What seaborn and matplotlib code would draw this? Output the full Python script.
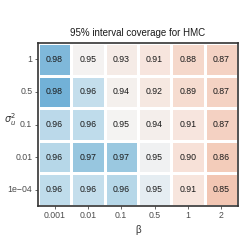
import numpy as np
import pandas as pd
import matplotlib
matplotlib.use("Agg")
import matplotlib.pyplot as plt
import seaborn as sns
from matplotlib.colors import LinearSegmentedColormap

# coverage values (rows = sigma_u^2, cols = beta)
beta_labels = ["0.001", "0.01", "0.1", "0.5", "1", "2"]
sigma_labels = ["1", "0.5", "0.1", "0.01", "1e\u221204"]

row_1 = [0.980, 0.949, 0.934, 0.914, 0.884, 0.874]
row_05 = [0.984, 0.961, 0.944, 0.922, 0.892, 0.874]
row_01 = [0.963, 0.962, 0.950, 0.942, 0.914, 0.873]
row_001 = [0.964, 0.972, 0.971, 0.951, 0.904, 0.864]
row_1e4 = [0.962, 0.961, 0.964, 0.954, 0.912, 0.854]

coverage = pd.DataFrame([row_1, row_05, row_01, row_001, row_1e4],
                        index=sigma_labels, columns=beta_labels)

# diverging palette: muted red below 0.95, blue above
vmin, vmax = 0.85, 0.985
stops = [(0.85, "#f2c4b0"), (0.87, "#f4cfbf"), (0.88, "#f5d6c9"),
         (0.91, "#f7e4dc"), (0.94, "#f4ede9"), (0.95, "#f4f3f2"),
         (0.955, "#e2ecf2"), (0.96, "#c9e1ee"), (0.97, "#9ecae1"),
         (0.985, "#70b0d7")]
cmap = LinearSegmentedColormap.from_list(
    "cov", [((v - vmin) / (vmax - vmin), c) for v, c in stops])

sns.set_theme(style="white")
plt.rcParams['font.family'] = ['Liberation Sans', 'DejaVu Sans']

fig = plt.figure(figsize=(2.43, 2.42), dpi=100)
ax = fig.add_axes([0.156, 0.149, 0.823, 0.673])

sns.heatmap(coverage, ax=ax, cmap=cmap, vmin=vmin, vmax=vmax, cbar=False,
            annot=True, fmt=".2f", annot_kws={"size": 6.3, "color": "#1a1a1a"},
            linewidths=0.8, linecolor="white")

for side in ax.spines.values():
    side.set_visible(True)
    side.set_color("#333333")
    side.set_linewidth(1.2)

ax.set_title("95% interval coverage for HMC", fontsize=7, color="#1a1a1a", pad=5)
ax.set_xlabel("\u03b2", fontsize=7, color="#333333", labelpad=3)
ax.set_ylabel(r"$\sigma_u^2$", fontsize=7, color="#333333", rotation=0,
              ha="center", va="center")
ax.yaxis.set_label_coords(-0.14, 0.53)
ax.tick_params(axis='both', labelsize=6.3, colors="#4d4d4d", length=2, width=0.6,
               pad=2, left=True, bottom=True)
ax.set_yticklabels(sigma_labels, rotation=0)
ax.set_xticklabels(beta_labels, rotation=0)

fig.savefig("out.png", dpi=100)
plt.close()
